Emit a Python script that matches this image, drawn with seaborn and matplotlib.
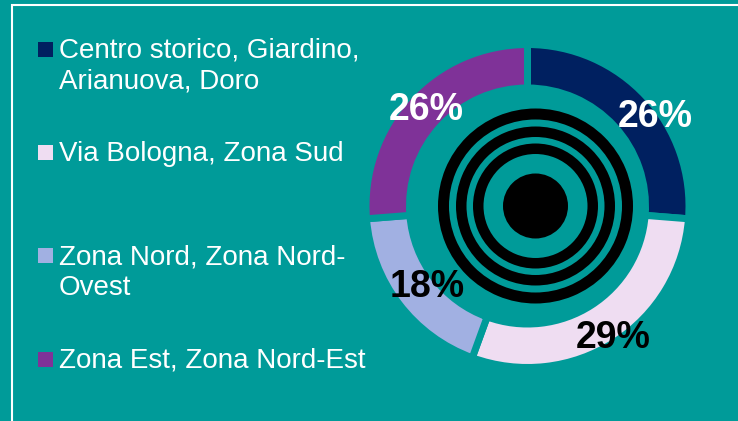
import matplotlib
matplotlib.use("Agg")
import matplotlib.pyplot as plt
import seaborn as sns
import numpy as np
from matplotlib.patches import Wedge, Circle, Rectangle

# data
zones = ["Centro storico, Giardino,\nArianuova, Doro",
         "Via Bologna, Zona Sud",
         "Zona Nord, Zona Nord-\nOvest",
         "Zona Est, Zona Nord-Est"]
shares = [26, 29, 18, 26]

# style
teal = "#009B99"
colors = ["#002060", "#EFDDF2", "#A1B0E2", "#7F3298"]
label_colors = ["white", "black", "black", "white"]
label_pos = [(0.99, -7.5), (0.99, 0.5), (0.81, 1.0), (0.89, -1.0)]  # (radius, angle nudge)

sns.set_style("white")
plt.rcParams["font.family"] = ["Liberation Sans", "DejaVu Sans"]

W, H = 738, 421
fig = plt.figure(figsize=(W / 100, H / 100), dpi=100, facecolor=teal)

# donut axes, 1 unit = 158 px
cx, cy, R, half = 527.5, 206, 158, 200
ax = fig.add_axes([(cx - half) / W, (H - cy - half) / H, 2 * half / W, 2 * half / H])
ax.set_facecolor(teal)
wedges, _ = ax.pie(shares, colors=sns.color_palette(colors), startangle=90, counterclock=False,
                   radius=161.5 / R,
                   wedgeprops=dict(width=(161.5 - 118) / R, edgecolor=teal, linewidth=7 * 0.72))
lim = half / R
ax.set_xlim(-lim, lim)
ax.set_ylim(-lim, lim)
ax.set_aspect("equal")
ax.axis("off")

# percentage labels
for w, v, c, (rr, nudge) in zip(wedges, shares, label_colors, label_pos):
    ang = np.deg2rad((w.theta1 + w.theta2) / 2 + nudge)
    ax.text(rr * np.cos(ang), rr * np.sin(ang) - 0.01, f"{v}%", ha="center", va="center",
            fontsize=27, fontweight="bold", color=c, clip_on=False)

# concentric rings in the middle
rc = (8 / R, 0)
for r_out, r_in in [(97.5, 86.5), (79.5, 69), (62.5, 52)]:
    ax.add_patch(Wedge(rc, r_out / R, 0, 360, width=(r_out - r_in) / R, facecolor="black", lw=0))
ax.add_patch(Circle(rc, 32.5 / R, facecolor="black", lw=0))

# legend
for i, (z, c) in enumerate(zip(zones, colors)):
    top = 37.8 + 103.3 * i
    fig.text(59 / W, 1 - top / H, z, ha="left", va="top", color="white",
             fontsize=20, linespacing=1.25)
    fig.add_artist(Rectangle((38.3 / W, 1 - (top + 3.9 + 15) / H), 15 / W, 15 / H,
                             transform=fig.transFigure, facecolor=c, lw=0))

# white frame
fig.add_artist(Rectangle((12 / W, -0.05), 1.1, 1.05 - 5 / H, transform=fig.transFigure,
                         fill=False, edgecolor="white", lw=1.5, clip_on=False))

fig.savefig("out.png", dpi=100, facecolor=teal)
